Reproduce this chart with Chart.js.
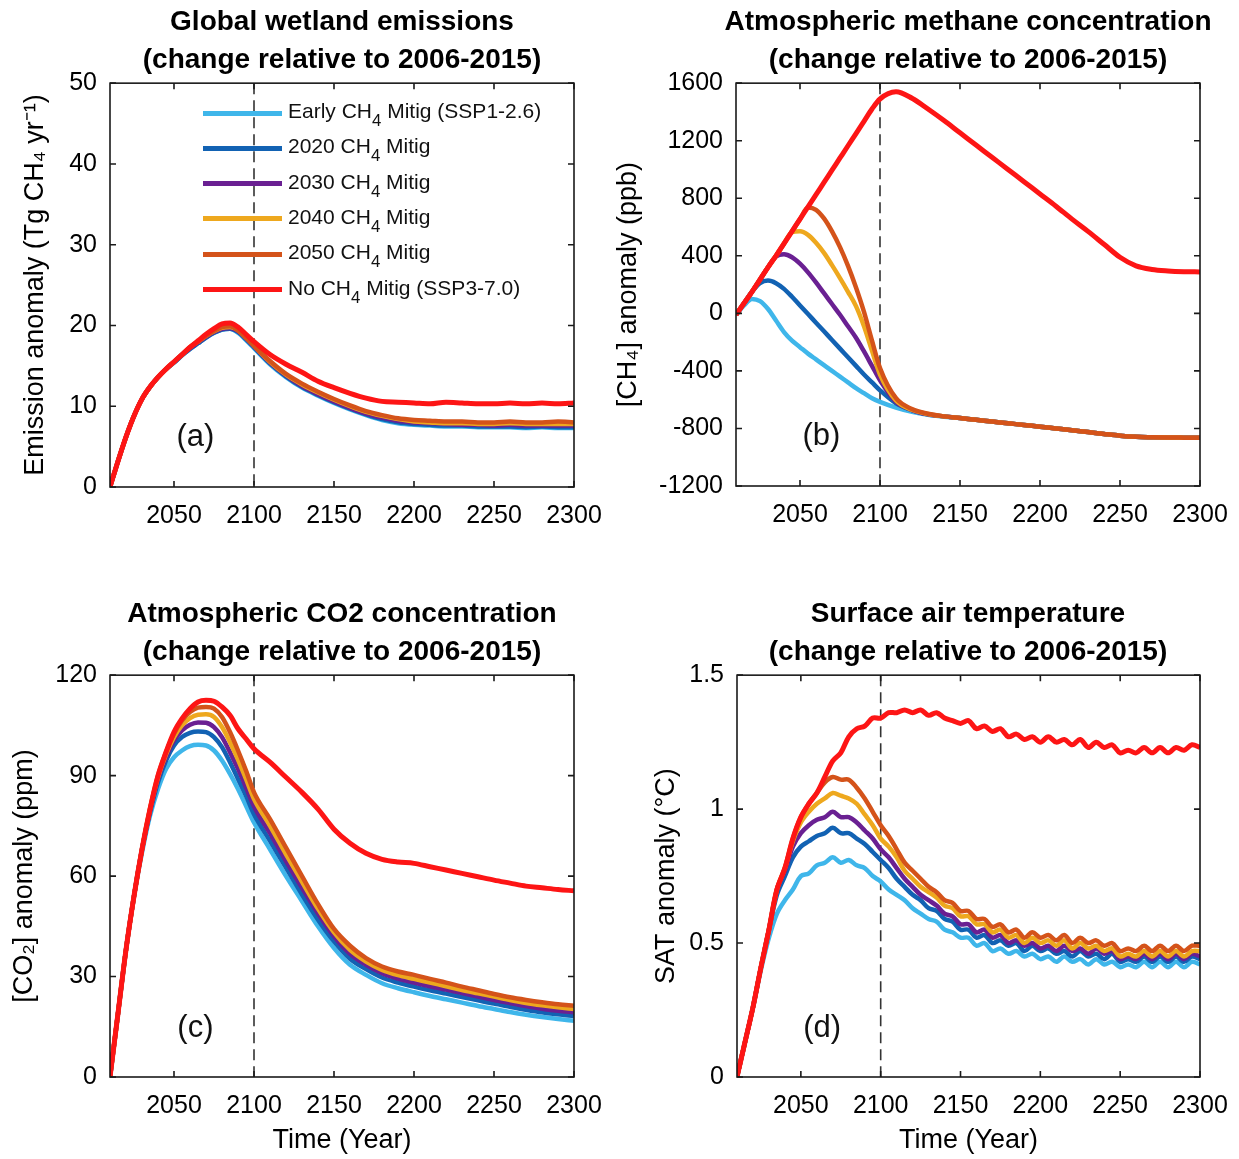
<!DOCTYPE html>
<html>
<head>
<meta charset="utf-8">
<title>CH4 mitigation scenarios</title>
<script src="https://cdn.jsdelivr.net/npm/chart.js@4.4.1/dist/chart.umd.min.js"></script>
<style>
  body { margin: 0; background: #fff; width: 1239px; height: 1159px; position: relative; overflow: hidden;
         font-family: 'Liberation Sans', Arial, Helvetica, sans-serif; }
  .panel { position: absolute; }
  #legend { position: absolute; left: 0; top: 0; }
  .row { position: absolute; white-space: nowrap; }
  .swatch { position: absolute; left: 0; width: 79px; height: 5px; }
  .lab { position: absolute; left: 85px; font-size: 21px; line-height: 24px; color: #111; }
  .lab sub { font-size: 0.8em; vertical-align: -0.45em; line-height: 0; }
</style>
</head>
<body>
<canvas id="ca" class="panel" width="684" height="540" style="left:0;top:0"></canvas>
<canvas id="cb" class="panel" width="736" height="540" style="left:600px;top:0"></canvas>
<canvas id="cc" class="panel" width="684" height="567" style="left:0;top:592px"></canvas>
<canvas id="cd" class="panel" width="736" height="567" style="left:600px;top:592px"></canvas>
<div id="legend"></div>

<script>
// ---------------------------------------------------------------------------
// data
const FONT = "'Liberation Sans', Arial, Helvetica, sans-serif";

const seriesNames = ["Early CH4 Mitig (SSP1-2.6)", "2020 CH4 Mitig", "2030 CH4 Mitig",
                     "2040 CH4 Mitig", "2050 CH4 Mitig", "No CH4 Mitig (SSP3-7.0)"];
const seriesColors = ["#3fb6ea", "#1262b3", "#6a2092", "#eea81e", "#d4531a", "#fd1515"];
const drawOrder = [5, 4, 3, 2, 1, 0];   // red on top

const markYear = 2100;                  // dashed vertical line
const xTickYears = [2050, 2100, 2150, 2200, 2250, 2300];

// years used by panels a-c (5-yr to 2100, 10-yr after)
const yearsABC = [2010,2015,2020,2025,2030,2035,2040,2045,2050,2055,2060,2065,2070,2075,2080,2085,2090,2095,2100,
                  2110,2120,2130,2140,2150,2160,2170,2180,2190,2200,2210,2220,2230,2240,2250,2260,2270,2280,2290,2300];
// years used by panel d (5-yr)
const yearsD = [2010,2015,2020,2025,2030,2035,2040,2045,2050,2055,2060,2065,2070,2075,2080,2085,2090,2095,2100,
                2105,2110,2115,2120,2125,2130,2135,2140,2145,2150,2155,2160,2165,2170,2175,2180,2185,2190,2195,2200,
                2205,2210,2215,2220,2225,2230,2235,2240,2245,2250,2255,2260,2265,2270,2275,2280,2285,2290,2295,2300];

// (a) wetland emission anomaly, Tg CH4/yr
const emisTicks = [0, 10, 20, 30, 40, 50];
const emisEarly = [0,3.2,6.2,8.8,10.9,12.4,13.6,14.6,15.4,16.3,17.1,17.8,18.5,19.1,19.5,19.6,19.1,18.2,17.2,
                   15.2,13.6,12.3,11.3,10.4,9.6,8.9,8.3,7.9,7.7,7.6,7.5,7.5,7.4,7.4,7.4,7.3,7.4,7.3,7.3];
const emis2020 = [0,3.2,6.2,8.8,10.9,12.4,13.6,14.6,15.4,16.3,17.1,17.8,18.5,19.1,19.5,19.6,19.2,18.3,17.3,
                  15.3,13.7,12.4,11.4,10.5,9.7,9.0,8.4,8.0,7.8,7.7,7.6,7.6,7.5,7.5,7.5,7.4,7.5,7.4,7.4];
const emis2030 = [0,3.2,6.2,8.8,10.9,12.4,13.6,14.6,15.5,16.4,17.2,17.9,18.6,19.2,19.6,19.7,19.3,18.4,17.4,
                  15.4,13.8,12.5,11.5,10.6,9.8,9.1,8.6,8.2,8.0,7.9,7.8,7.7,7.7,7.6,7.7,7.6,7.6,7.6,7.6];
const emis2040 = [0,3.2,6.2,8.8,10.9,12.4,13.6,14.6,15.5,16.4,17.3,18.0,18.7,19.3,19.7,19.8,19.4,18.5,17.5,
                  15.5,13.9,12.7,11.7,10.8,10.0,9.3,8.8,8.4,8.1,8.0,7.9,7.9,7.8,7.8,7.9,7.8,7.8,7.8,7.8];
const emis2050 = [0,3.2,6.2,8.8,10.9,12.4,13.6,14.6,15.5,16.4,17.3,18.0,18.7,19.3,19.8,19.9,19.4,18.5,17.5,
                  15.6,14.0,12.8,11.8,10.9,10.1,9.4,8.9,8.5,8.3,8.2,8.1,8.1,8.0,8.0,8.1,8.0,8.0,8.1,8.0];
const emisNone = [0,3.2,6.2,8.8,10.9,12.4,13.6,14.6,15.5,16.4,17.3,18.1,18.9,19.6,20.2,20.3,19.8,18.9,18.0,
                  16.4,15.2,14.2,13.1,12.3,11.6,11.0,10.6,10.5,10.4,10.3,10.5,10.4,10.3,10.3,10.4,10.3,10.4,10.3,10.4];

// (b) methane concentration anomaly, ppb
const ch4Ticks = [-1200, -800, -400, 0, 400, 800, 1200, 1600];
const ch4Early = [-10,55,100,85,30,-50,-130,-190,-235,-280,-320,-360,-400,-440,-480,-520,-555,-590,-615,
                  -655,-685,-705,-718,-728,-740,-752,-764,-776,-788,-800,-812,-825,-838,-850,-858,-861,-863,-864,-865];
const ch42020 = [-10,70,150,210,228,210,170,115,55,-5,-65,-125,-185,-245,-305,-365,-425,-480,-535,
                 -625,-672,-702,-716,-728,-740,-752,-764,-776,-788,-800,-812,-825,-838,-850,-858,-861,-863,-864,-865];
const ch42030 = [-10,70,150,235,320,395,410,390,345,285,215,140,65,-10,-90,-170,-265,-365,-465,
                 -615,-672,-702,-716,-728,-740,-752,-764,-776,-788,-800,-812,-825,-838,-850,-858,-861,-863,-864,-865];
const ch42040 = [-10,70,150,235,320,400,485,565,570,545,490,420,335,245,150,50,-90,-260,-425,
                 -605,-670,-700,-716,-728,-740,-752,-764,-776,-788,-800,-812,-825,-838,-850,-858,-861,-863,-864,-865];
const ch42050 = [-10,70,150,235,320,400,485,570,655,735,720,660,570,460,330,180,10,-190,-380,
                 -590,-665,-698,-716,-728,-740,-752,-764,-776,-788,-800,-812,-825,-838,-850,-858,-861,-863,-864,-865];
const ch4None = [-10,70,150,235,320,400,485,570,655,740,825,910,995,1080,1165,1250,1335,1420,1490,
                 1540,1495,1420,1340,1255,1170,1085,1000,915,830,745,655,570,480,390,330,305,295,290,288];

// (c) CO2 concentration anomaly, ppm
const co2Ticks = [0, 30, 60, 90, 120];
const co2Early = [0,19,38,54,67,78,86,92,95.5,97.5,98.8,99.2,99,97.5,94.5,90.5,86,81,76,
                  68,60,52.5,45,38.5,33.5,30.5,28,26.5,25.3,24.2,23.2,22.2,21.2,20.3,19.4,18.6,17.9,17.3,16.8];
const co22020 = [0,19,38,54,68,79,88,94.5,99,101.5,102.8,103.2,103,101.5,98.5,94,89,84,78.5,
                 70.5,62.5,54.5,47,40.5,35.3,32.2,29.7,28.2,27,25.9,24.9,23.9,22.9,21.9,21,20.1,19.3,18.7,18.2];
const co22030 = [0,19,38,54,68,79.5,89,95.5,100.5,103.5,105.2,105.9,105.8,104.5,101.5,97,92,86.5,80.8,
                 72.8,64.5,56.5,48.8,42,36.8,33.5,31,29.4,28.2,27.1,26.1,25.1,24,23,22.1,21.2,20.4,19.8,19.3];
const co22040 = [0,19,38,54,68,80,89.5,96.3,101.5,105,107.2,108.2,108.3,107.5,104.5,100,94.8,89,83,
                 75,66.5,58.3,50.2,43.2,38,34.5,32,30.4,29.3,28.2,27.1,26,25,24,23,22.1,21.4,20.8,20.3];
const co22050 = [0,19,38,54,68,80,90,97,102.5,106.5,109,110.3,110.5,110,107.5,103,97.5,91.5,85,
                 77,68.5,60,51.6,44.2,39.2,35.5,33,31.5,30.5,29.3,28.2,27,25.9,24.8,23.8,23,22.3,21.7,21.3];
const co2None = [0,19,38,54,68,80,90,97,103,107,110,112,112.5,112.2,110.5,108,104,101,98,
                 94,89.5,85,80,74,69.8,66.8,65,64.2,63.8,62.8,61.8,60.8,59.8,58.8,57.9,57,56.5,56,55.6];

// (d) surface air temperature anomaly, degC
const satTicks = [0, 0.5, 1, 1.5];
const satEarly = [0,0.13,0.26,0.40,0.52,0.61,0.66,0.70,0.75,0.76,0.79,0.80,0.82,0.80,0.81,0.79,0.78,0.75,0.73,
                  0.70,0.68,0.66,0.63,0.61,0.59,0.58,0.55,0.54,0.52,0.52,0.49,0.50,0.47,0.48,0.46,0.47,0.45,0.46,0.44,
                  0.45,0.43,0.45,0.43,0.44,0.42,0.44,0.42,0.43,0.41,0.42,0.41,0.43,0.41,0.43,0.41,0.43,0.41,0.43,0.42];
const sat2020 = [0,0.13,0.26,0.41,0.55,0.68,0.75,0.82,0.86,0.88,0.90,0.91,0.93,0.91,0.91,0.89,0.87,0.84,0.81,
                 0.78,0.74,0.71,0.68,0.66,0.63,0.62,0.59,0.58,0.55,0.55,0.52,0.53,0.50,0.51,0.49,0.50,0.47,0.49,0.47,
                 0.48,0.46,0.47,0.45,0.47,0.45,0.46,0.44,0.46,0.43,0.44,0.43,0.45,0.43,0.45,0.43,0.45,0.43,0.45,0.44];
const sat2030 = [0,0.13,0.26,0.41,0.55,0.70,0.77,0.86,0.91,0.94,0.96,0.97,0.99,0.97,0.97,0.95,0.92,0.89,0.85,
                 0.82,0.78,0.74,0.71,0.68,0.66,0.64,0.61,0.60,0.57,0.57,0.54,0.55,0.52,0.53,0.50,0.51,0.49,0.50,0.48,
                 0.49,0.47,0.49,0.47,0.48,0.46,0.48,0.46,0.47,0.44,0.45,0.44,0.46,0.44,0.46,0.44,0.46,0.44,0.46,0.45];
const sat2040 = [0,0.13,0.26,0.41,0.55,0.70,0.78,0.88,0.95,0.99,1.02,1.04,1.06,1.05,1.04,1.02,0.98,0.94,0.89,
                 0.86,0.82,0.77,0.74,0.71,0.69,0.67,0.64,0.63,0.60,0.60,0.57,0.57,0.54,0.55,0.52,0.53,0.50,0.52,0.50,
                 0.51,0.49,0.51,0.48,0.50,0.48,0.49,0.47,0.48,0.45,0.46,0.45,0.47,0.45,0.47,0.45,0.47,0.45,0.47,0.47];
const sat2050 = [0,0.13,0.26,0.41,0.55,0.70,0.78,0.89,0.97,1.02,1.06,1.10,1.12,1.11,1.11,1.08,1.04,0.99,0.94,
                 0.90,0.85,0.80,0.77,0.74,0.71,0.69,0.66,0.65,0.62,0.62,0.59,0.59,0.56,0.57,0.54,0.55,0.52,0.54,0.52,
                 0.53,0.51,0.53,0.50,0.52,0.50,0.51,0.49,0.50,0.47,0.48,0.47,0.49,0.47,0.49,0.47,0.49,0.47,0.49,0.49];
const satNone = [0,0.13,0.26,0.41,0.55,0.70,0.78,0.89,0.97,1.02,1.06,1.12,1.18,1.21,1.27,1.30,1.31,1.34,1.34,
                 1.36,1.36,1.37,1.36,1.37,1.35,1.36,1.34,1.33,1.32,1.33,1.30,1.31,1.29,1.30,1.27,1.28,1.26,1.27,1.25,
                 1.27,1.25,1.26,1.24,1.26,1.23,1.25,1.23,1.24,1.21,1.22,1.21,1.23,1.21,1.23,1.21,1.23,1.22,1.24,1.23];


// ---------------------------------------------------------------------------
// box, inward ticks, dashed 2100 line and panel letter
const framePlugin = {
    id: "frame",
    beforeDatasetsDraw(chart)
    {
        const {ctx, chartArea: a} = chart;
        const px = chart.scales.x.getPixelForValue(markYear);
        ctx.save();
        ctx.strokeStyle = "#333";
        ctx.lineWidth = 1.6;
        ctx.setLineDash([11, 6]);
        ctx.beginPath();
        ctx.moveTo(px, a.top);
        ctx.lineTo(px, a.bottom);
        ctx.stroke();
        ctx.restore();
    },
    afterDatasetsDraw(chart, args, opts)
    {
        const {ctx, chartArea: a, scales: {x, y}} = chart;
        const len = 6;
        ctx.save();
        ctx.strokeStyle = "#1a1a1a";
        ctx.lineWidth = 1.6;
        ctx.strokeRect(a.left, a.top, a.right - a.left, a.bottom - a.top);
        ctx.beginPath();
        x.ticks.forEach(t => {
            const p = x.getPixelForValue(t.value);
            ctx.moveTo(p, a.bottom); ctx.lineTo(p, a.bottom - len);
            ctx.moveTo(p, a.top);    ctx.lineTo(p, a.top + len);
        });
        y.ticks.forEach(t => {
            const p = y.getPixelForValue(t.value);
            ctx.moveTo(a.left, p);  ctx.lineTo(a.left + len, p);
            ctx.moveTo(a.right, p); ctx.lineTo(a.right - len, p);
        });
        ctx.stroke();

        ctx.fillStyle = "#111";
        ctx.font = "31px " + FONT;
        ctx.textAlign = "center";
        ctx.textBaseline = "middle";
        ctx.fillText(opts.letter, a.left + 0.184 * (a.right - a.left), a.top + 0.878 * (a.bottom - a.top));
        ctx.restore();
    }
};


///////////////////////////////////////////////////////////////////////////////
function makeChart(id, spec)
{
    const datasets = spec.series.map((vals, i) => ({
        label: seriesNames[i],
        data: spec.years.map((yr, k) => ({x: yr, y: vals[k]})),
        yAxisID: "y",
        borderColor: seriesColors[i],
        backgroundColor: seriesColors[i],
        borderWidth: i === 5 ? 5 : 4.5,
        pointRadius: 0,
        fill: false,
        order: drawOrder[i],
        cubicInterpolationMode: spec.smooth ? "monotone" : "default",
        tension: spec.smooth ? 0 : 0.35
    }));

    return new Chart(document.getElementById(id), {
        type: "line",
        data: { datasets },
        options: {
            responsive: false,
            animation: false,
            events: [],
            layout: { padding: 0 },
            plugins: {
                legend: { display: false },
                tooltip: { enabled: false },
                title: {
                    display: true,
                    text: spec.title,
                    color: "#000",
                    font: { family: FONT, size: 28, weight: "bold", lineHeight: 1.36 },
                    padding: { top: 3, bottom: 4 }
                },
                frame: { letter: spec.letter }
            },
            scales: {
                x: {
                    type: "linear",
                    min: 2010,
                    max: 2300,
                    afterBuildTicks: s => { s.ticks = xTickYears.map(v => ({ value: v })); },
                    afterFit: s => { s.height = spec.xHeight; },
                    grid: { display: false, drawTicks: false },
                    border: { display: false },
                    ticks: {
                        color: "#000", font: { family: FONT, size: 25 }, padding: 14,
                        maxRotation: 0, minRotation: 0, autoSkip: false,
                        callback: v => String(v)
                    },
                    title: {
                        display: !!spec.xTitle, text: spec.xTitle || "", color: "#000",
                        font: { family: FONT, size: 27 }, padding: { top: 0, bottom: 2 }
                    }
                },
                y: {
                    type: "linear",
                    position: "left",
                    min: spec.yTicks[0],
                    max: spec.yTicks[spec.yTicks.length - 1],
                    afterBuildTicks: s => { s.ticks = spec.yTicks.map(v => ({ value: v })); },
                    afterFit: s => { s.width = spec.yWidth; },
                    grid: { display: false, drawTicks: false },
                    border: { display: false },
                    ticks: {
                        color: "#000", font: { family: FONT, size: 25 }, padding: 13,
                        autoSkip: false, callback: v => String(v)
                    },
                    title: {
                        display: true, text: spec.yTitle, color: "#000",
                        font: { family: FONT, size: 27 }, padding: { top: spec.yTitlePad, bottom: 0 }
                    }
                },
                // empty right-hand box so the title centres over the plot
                pad: {
                    type: "linear",
                    position: "right",
                    afterFit: s => { s.width = spec.padRight; },
                    grid: { display: false, drawTicks: false },
                    border: { display: false },
                    ticks: { display: false }
                }
            }
        },
        plugins: [framePlugin]
    });
}


///////////////////////////////////////////////////////////////////////////////
function buildLegend()
{
    const box = document.getElementById("legend");
    seriesNames.forEach((name, i) => {
        const rowY = 113 + i * 35.3;
        const row = document.createElement("div");
        row.className = "row";
        row.style.left = "203px";
        row.style.top = "0px";
        row.innerHTML =
            '<div class="swatch" style="top:' + (rowY - 2.5) + 'px;background:' + seriesColors[i] + '"></div>' +
            '<div class="lab" style="top:' + (rowY - 14) + 'px">' + name.replace("CH4", "CH<sub>4</sub>") + '</div>';
        box.appendChild(row);
    });
}


///////////////////////////////////////////////////////////////////////////////
document.addEventListener("DOMContentLoaded", e =>
{
    const subtitle = "(change relative to 2006-2015)";

    makeChart("ca", {
        years: yearsABC, smooth: true, letter: "(a)",
        series: [emisEarly, emis2020, emis2030, emis2040, emis2050, emisNone],
        yTicks: emisTicks,
        title: ["Global wetland emissions", subtitle],
        yTitle: "Emission anomaly (Tg CH\u2084 yr\u207B\u00B9)",
        yWidth: 110, yTitlePad: 19, padRight: 110, xHeight: 53
    });

    makeChart("cb", {
        years: yearsABC, smooth: true, letter: "(b)",
        series: [ch4Early, ch42020, ch42030, ch42040, ch42050, ch4None],
        yTicks: ch4Ticks,
        title: ["Atmospheric methane concentration", subtitle],
        yTitle: "[CH\u2084] anomaly (ppb)",
        yWidth: 136, yTitlePad: 12, padRight: 136, xHeight: 54
    });

    makeChart("cc", {
        years: yearsABC, smooth: true, letter: "(c)",
        series: [co2Early, co22020, co22030, co22040, co22050, co2None],
        yTicks: co2Ticks,
        title: ["Atmospheric CO2 concentration", subtitle],
        yTitle: "[CO\u2082] anomaly (ppm)",
        xTitle: "Time (Year)",
        yWidth: 110, yTitlePad: 8, padRight: 110, xHeight: 82
    });

    makeChart("cd", {
        years: yearsD, smooth: false, letter: "(d)",
        series: [satEarly, sat2020, sat2030, sat2040, sat2050, satNone],
        yTicks: satTicks,
        title: ["Surface air temperature", subtitle],
        yTitle: "SAT anomaly (\u00B0C)",
        xTitle: "Time (Year)",
        yWidth: 137, yTitlePad: 50, padRight: 136, xHeight: 82
    });

    buildLegend();
});
</script>
</body>
</html>
